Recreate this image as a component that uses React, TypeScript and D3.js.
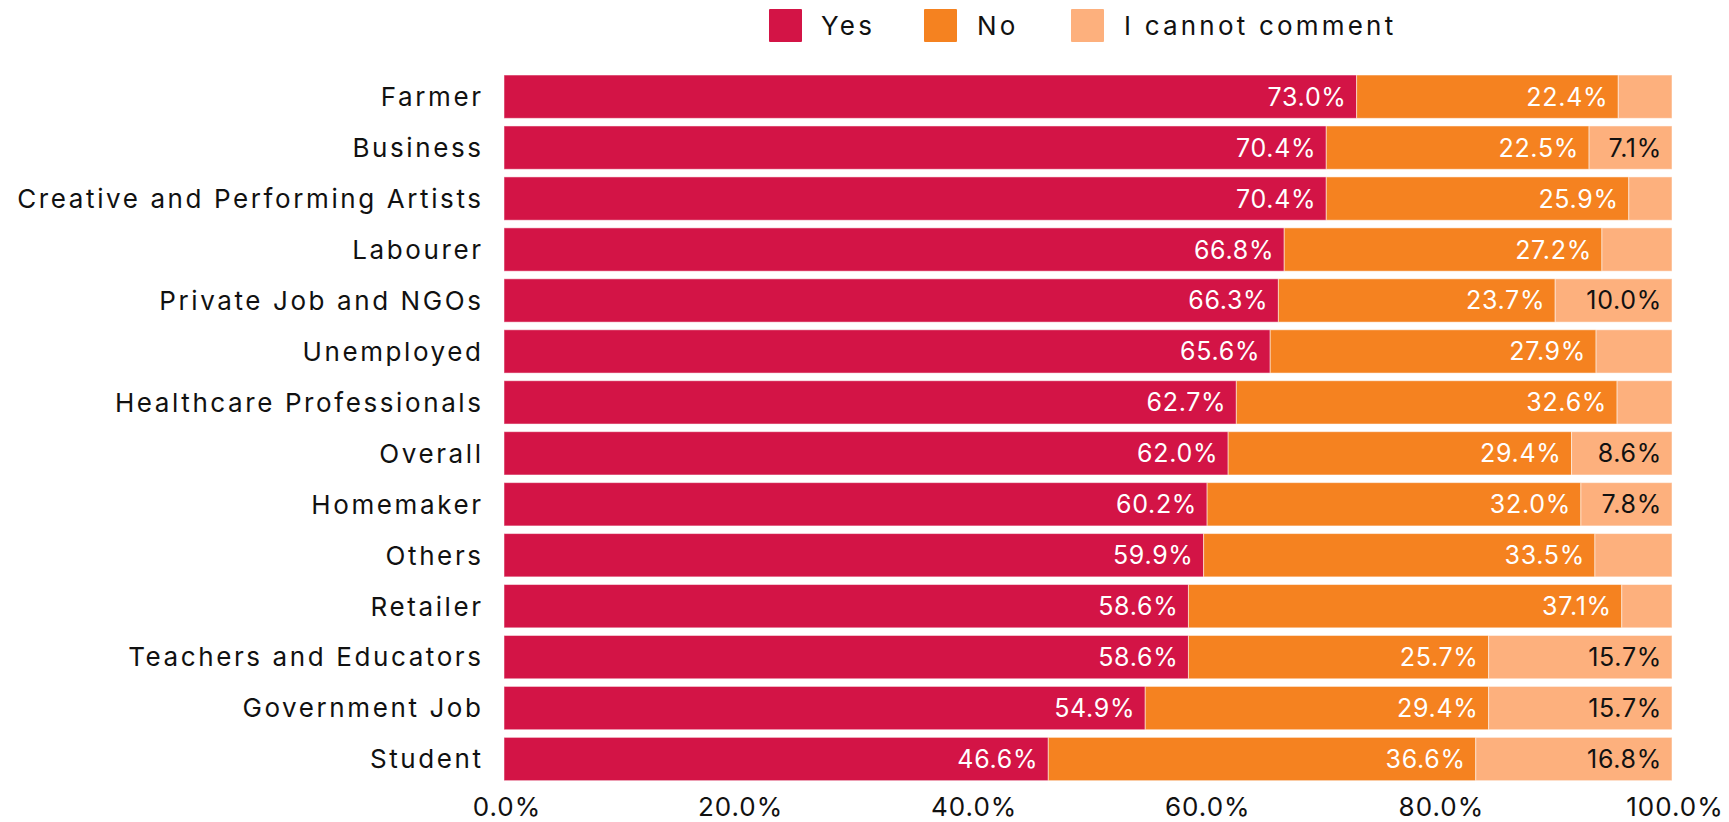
import React from "react";
import * as d3 from "d3";

const categories = [
  "Farmer",
  "Business",
  "Creative and Performing Artists",
  "Labourer",
  "Private Job and NGOs",
  "Unemployed",
  "Healthcare Professionals",
  "Overall",
  "Homemaker",
  "Others",
  "Retailer",
  "Teachers and Educators",
  "Government Job",
  "Student",
];
const yesValues = [73.0, 70.4, 70.4, 66.8, 66.3, 65.6, 62.7, 62.0, 60.2, 59.9, 58.6, 58.6, 54.9, 46.6];
const noValues = [22.4, 22.5, 25.9, 27.2, 23.7, 27.9, 32.6, 29.4, 32.0, 33.5, 37.1, 25.7, 29.4, 36.6];
const cannotValues = [4.6, 7.1, 3.7, 6.0, 10.0, 6.5, 4.7, 8.6, 7.8, 6.6, 4.3, 15.7, 15.7, 16.8];
const seriesNames = ["Yes", "No", "I cannot comment"];
const xTicks = [0, 20, 40, 60, 80, 100];

const COLORS = ["#D31446", "#F58220", "#FDB07D"];
const LABEL_COLORS = ["#ffffff", "#ffffff", "#111111"];
const FONT = "Inter, 'Noto Sans', sans-serif";
const WORD_SPACING = 2.6;
const LEGEND_SPACING = 3.2;
const NUM_SPACING = 0.7;

export default function App() {
  const W = 1729;
  const H = 822;
  const x = d3.scaleLinear().domain([0, 100]).range([504, 1672]);
  const y = d3
    .scaleBand<string>()
    .domain(categories)
    .range([71.2, 784.5])
    .paddingInner(0.15)
    .paddingOuter(0.075);

  const rows = categories.map((c, i) => ({
    cat: c,
    Yes: yesValues[i],
    No: noValues[i],
    "I cannot comment": cannotValues[i],
  }));
  const stack = d3.stack<any>().keys(seriesNames)(rows);

  const legendItems = [
    { name: "Yes", sx: 769, tx: 821 },
    { name: "No", sx: 924, tx: 977 },
    { name: "I cannot comment", sx: 1071, tx: 1124 },
  ];

  return (
    <svg
      width={W}
      height={H}
      style={{ position: "absolute", left: 0, top: 0, display: "block", background: "#fff" }}
      fontFamily={FONT}
    >
      {legendItems.map((l, i) => (
        <g key={l.name}>
          <rect x={l.sx} y={9} width={33} height={33} fill={COLORS[i]} rx={1} />
          <text x={l.tx} y={35} fontSize={26} letterSpacing={LEGEND_SPACING} fill="#111">
            {l.name}
          </text>
        </g>
      ))}

      {stack.map((layer, si) => (
        <g key={layer.key}>
          {layer.map((d: any, i: number) => {
            const cat = categories[i];
            const x0 = x(d[0]);
            const x1 = x(d[1]);
            const v = d[1] - d[0];
            const yy = y(cat)!;
            const bh = y.bandwidth();
            const showLabel = si < 2 || v >= 7;
            return (
              <g key={cat}>
                <rect
                  x={x0}
                  y={yy}
                  width={x1 - x0}
                  height={bh}
                  fill={COLORS[si]}
                  stroke="#ffffff"
                  strokeOpacity={0.5}
                  strokeWidth={1}
                />
                {showLabel && (
                  <text
                    x={x1 - 10}
                    y={yy + bh / 2}
                    dy="0.36em"
                    textAnchor="end"
                    fontSize={25}
                    letterSpacing={NUM_SPACING}
                    fill={LABEL_COLORS[si]}
                  >
                    {v.toFixed(1) + "%"}
                  </text>
                )}
              </g>
            );
          })}
        </g>
      ))}

      {categories.map((c) => (
        <text
          key={c}
          x={481 + WORD_SPACING}
          y={y(c)! + y.bandwidth() / 2}
          dy="0.36em"
          textAnchor="end"
          fontSize={26}
          letterSpacing={WORD_SPACING}
          fill="#111"
        >
          {c}
        </text>
      ))}

      {xTicks.map((t) => (
        <text
          key={t}
          x={x(t) + 3}
          y={816}
          textAnchor="middle"
          fontSize={26}
          letterSpacing={1}
          fill="#111"
        >
          {t.toFixed(1) + "%"}
        </text>
      ))}
    </svg>
  );
}
